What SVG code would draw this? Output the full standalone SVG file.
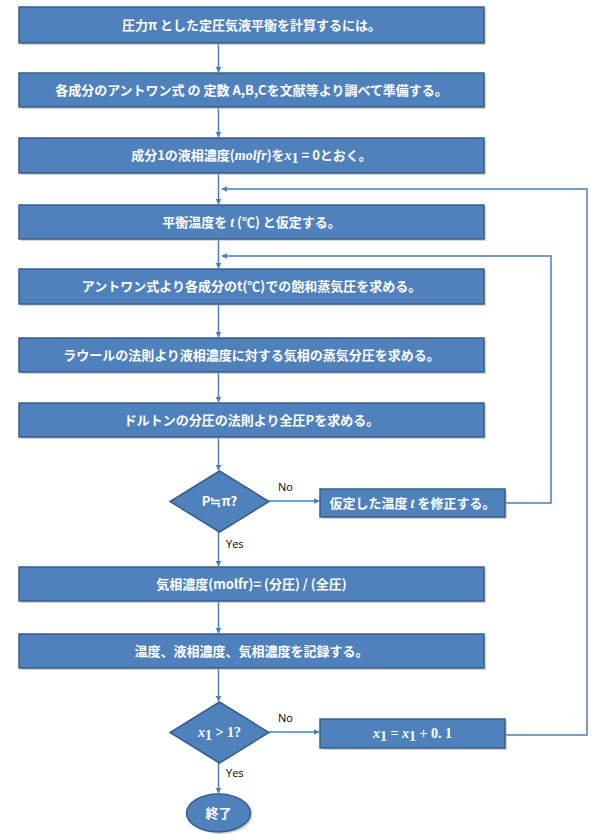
<svg xmlns="http://www.w3.org/2000/svg" width="600" height="840" viewBox="0 0 600 840">
<style>
.box{fill:#4F81BD;stroke:#385D8A;stroke-width:1.5}
.sh{fill:#b8b8b8;opacity:0.6}
.t{fill:#fff;font-family:"Noto Sans CJK JP","Noto Sans",sans-serif;font-size:13px;font-weight:bold;text-anchor:middle}
.m{font-family:"Liberation Serif","DejaVu Serif",serif;font-style:italic;font-weight:bold;font-size:14px}
.mn{font-family:"Liberation Serif","DejaVu Serif",serif;font-weight:bold;font-size:14px}
.lbl{fill:#000;font-family:"Open Sans","Liberation Sans",sans-serif;font-size:11px}
.c{fill:none;stroke:#4A7EBB;stroke-width:1.5}
</style>
<defs>
<marker id="ah" viewBox="0 0 10 10" refX="9" refY="5" markerWidth="6" markerHeight="6" orient="auto" markerUnits="userSpaceOnUse">
<path d="M0,0 L10,5 L0,10 z" fill="#4A7EBB"/>
</marker>
</defs>
<rect width="600" height="840" fill="#fff"/>
<g id="connectors">
<path class="c" d="M218.5,43 V72" marker-end="url(#ah)"/>
<path class="c" d="M218.5,107 V137" marker-end="url(#ah)"/>
<path class="c" d="M218.5,173 V204" marker-end="url(#ah)"/>
<path class="c" d="M218.5,239 V268" marker-end="url(#ah)"/>
<path class="c" d="M218.5,304 V337" marker-end="url(#ah)"/>
<path class="c" d="M218.5,372 V402" marker-end="url(#ah)"/>
<path class="c" d="M218.5,437 V470" marker-end="url(#ah)"/>
<path class="c" d="M269,501 H319" marker-end="url(#ah)"/>
<path class="c" d="M505,503 H551 V256 H222" marker-end="url(#ah)"/>
<path class="c" d="M218.5,532 V566" marker-end="url(#ah)"/>
<path class="c" d="M218.5,601 V633" marker-end="url(#ah)"/>
<path class="c" d="M218.5,668 V701" marker-end="url(#ah)"/>
<path class="c" d="M269,732 H319" marker-end="url(#ah)"/>
<path class="c" d="M505,735 H587 V189 H222" marker-end="url(#ah)"/>
<path class="c" d="M218.5,763 V793" marker-end="url(#ah)"/>
</g>
<g id="n1">
<rect class="sh" x="21" y="9" width="465" height="36"/>
<rect class="box" x="19" y="7" width="465" height="36"/>
<text class="t" x="251.5" y="29.5">圧力π とした定圧気液平衡を計算するには。</text>
</g>
<g id="n2">
<rect class="sh" x="21" y="75" width="465" height="34"/>
<rect class="box" x="19" y="73" width="465" height="34"/>
<text class="t" x="251.5" y="94.5">各成分のアントワン式 の 定数 A,B,Cを文献等より調べて準備する。</text>
</g>
<g id="n3">
<rect class="sh" x="21" y="140" width="465" height="35"/>
<rect class="box" x="19" y="138" width="465" height="35"/>
<text class="t" x="251.5" y="160">成分1の液相濃度(<tspan class="m">molfr</tspan>)を<tspan class="m">x</tspan><tspan class="mn" font-size="10" dy="3">1</tspan><tspan dy="-3"> = 0とおく。</tspan></text>
</g>
<g id="n4">
<rect class="sh" x="21" y="207" width="465" height="34"/>
<rect class="box" x="19" y="205" width="465" height="34"/>
<text class="t" x="251.5" y="226.5">平衡温度を <tspan class="m">t</tspan> (℃) と仮定する。</text>
</g>
<g id="n5">
<rect class="sh" x="21" y="271" width="465" height="35"/>
<rect class="box" x="19" y="269" width="465" height="35"/>
<text class="t" x="251.5" y="291">アントワン式より各成分のt(℃)での飽和蒸気圧を求める。</text>
</g>
<g id="n6">
<rect class="sh" x="21" y="340" width="465" height="34"/>
<rect class="box" x="19" y="338" width="465" height="34"/>
<text class="t" x="251.5" y="359.5">ラウールの法則より液相濃度に対する気相の蒸気分圧を求める。</text>
</g>
<g id="n7">
<rect class="sh" x="21" y="405" width="465" height="34"/>
<rect class="box" x="19" y="403" width="465" height="34"/>
<text class="t" x="251.5" y="424.5">ドルトンの分圧の法則より全圧Pを求める。</text>
</g>
<g id="d1">
<polygon class="box" points="219.5,471 269,501.5 219.5,532 170,501.5"/>
<text class="t" x="219.5" y="506">P≒π?</text>
</g>
<text class="lbl" x="278" y="491">No</text>
<g id="n8">
<rect class="sh" x="322" y="491" width="185" height="28"/>
<rect class="box" x="320" y="489" width="185" height="28"/>
<text class="t" x="412.5" y="508">仮定した温度 <tspan class="m">t</tspan> を修正する。</text>
</g>
<text class="lbl" x="226" y="548">Yes</text>
<g id="n9">
<rect class="sh" x="21" y="569" width="465" height="34"/>
<rect class="box" x="19" y="567" width="465" height="34"/>
<text class="t" x="251.5" y="588.5">気相濃度(molfr)= (分圧) / (全圧)</text>
</g>
<g id="n10">
<rect class="sh" x="21" y="636" width="465" height="34"/>
<rect class="box" x="19" y="634" width="465" height="34"/>
<text class="t" x="251.5" y="655.5">温度、液相濃度、気相濃度を記録する。</text>
</g>
<g id="d2">
<polygon class="box" points="219.5,702 269,732.5 219.5,763 170,732.5"/>
<text class="t" x="219.5" y="737"><tspan class="m">x</tspan><tspan class="mn" font-size="10" dy="3">1</tspan><tspan class="mn" dy="-3"> &gt; 1?</tspan></text>
</g>
<text class="lbl" x="278" y="722">No</text>
<g id="n11">
<rect class="sh" x="322" y="721" width="185" height="29"/>
<rect class="box" x="320" y="719" width="185" height="29"/>
<text class="t" x="412.5" y="738"><tspan class="m">x</tspan><tspan class="mn" font-size="10" dy="3">1</tspan><tspan class="mn" dy="-3"> =  </tspan><tspan class="m">x</tspan><tspan class="mn" font-size="10" dy="3">1</tspan><tspan class="mn" dy="-3"> + 0. 1</tspan></text>
</g>
<text class="lbl" x="226" y="777">Yes</text>
<g id="end">
<ellipse class="sh" cx="220.5" cy="815" rx="32" ry="19"/>
<ellipse class="box" cx="218.5" cy="813" rx="32" ry="19"/>
<text class="t" x="218.5" y="818">終了</text>
</g>
</svg>
